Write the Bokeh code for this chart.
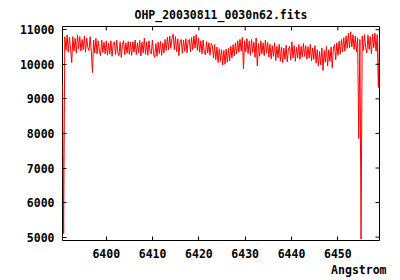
import numpy as np
from bokeh.plotting import figure
from bokeh.models import Range1d, FixedTicker, Title
from bokeh.embed import file_html
from bokeh.resources import INLINE

title_text = "OHP_20030811_0030n62.fits"
x_label = "Angstrom"
x_ticks = [6400, 6410, 6420, 6430, 6440, 6450]
y_ticks = [5000, 6000, 7000, 8000, 9000, 10000, 11000]
wl_start, wl_end = 6390.55, 6459.0
y_min, y_max = 4904, 11093

flux = [
    9400, 5100, 10800, 10400, 10850, 10350, 10780, 10450, 10050, 10800,
    10380, 10750, 10330, 10850, 10450, 10800, 10380, 10720, 10420, 10820,
    10350, 10760, 10480, 10400, 10800, 10360, 9760, 10700, 10330, 10750,
    10300, 10680, 10380, 10250, 10700, 10340, 10640, 10300, 10680, 10260,
    10620, 10300, 10680, 10230, 10600, 10650, 10280, 10700, 10330, 10250,
    10640, 10200, 10580, 10680, 10280, 10620, 10320, 10660, 10290, 10640,
    10260, 10650, 10350, 10700, 10280, 10620, 10330, 10690, 10240, 10640,
    10330, 10760, 10290, 10650, 10260, 10680, 10350, 10300, 10700, 10300,
    10200, 10600, 10230, 10640, 10310, 10660, 10260, 10620, 10330, 10720,
    10400, 10780, 10420, 10820, 10460, 10760, 10870, 10420, 10800, 10360,
    10740, 10250, 10660, 10720, 10320, 10700, 10380, 10740, 10330, 10680,
    10720, 10360, 10770, 10420, 10820, 10470, 10860, 10400, 10760, 10350,
    10680, 10300, 10700, 10360, 10280, 10660, 10320, 10620, 10260, 10600,
    10540, 10180, 10570, 10130, 10500, 10050, 10450, 10080, 10420, 9980,
    10400, 10000, 10440, 10060, 10470, 10100, 10520, 10180, 10570, 10240,
    10620, 10300, 10680, 10350, 10720, 10380, 10780, 9870, 10680, 10360,
    10740, 10310, 10670, 10260, 10720, 10340, 10640, 10200, 10760, 9950,
    10600, 10230, 10680, 10300, 10620, 10250, 10700, 10320, 10630, 10210,
    10580, 10160, 10540, 10230, 10620, 10110, 10520, 10190, 10580, 10090,
    10500, 10050, 10470, 10140, 10550, 10070, 10440, 10520, 10130, 10650,
    10180, 10540, 10090, 10500, 10180, 10570, 10140, 10520, 10210, 10600,
    10230, 10540, 10150, 10510, 10180, 10580, 10100, 10470, 10140, 10540,
    10030, 10420, 9950, 10370, 9980, 10470, 9820, 10400, 10060, 10520,
    9950, 10420, 10080, 10500, 9900, 10470, 10570, 10130, 10620, 10260,
    10670, 10300, 10720, 10360, 10770, 10380, 10820, 10460, 10900, 10480,
    10940, 10500, 10860, 10430, 10820, 10360, 10770, 7850, 10720, 4950,
    10820, 10400, 10860, 10480, 10330, 10840, 10430, 10800, 10300, 10870,
    10480, 10900, 10380, 10860, 9330, 10780,
]
wavelength = np.linspace(wl_start, wl_end, len(flux))

FONT = "DejaVu Sans Mono"
FS = "11.5px"
W, H = 400, 280
ML, MR, MT, MB = 62, 21, 25, 40
TICK = 4

p = figure(width=W, height=H, output_backend="svg", toolbar_location=None,
           x_range=Range1d(wl_start, wl_end), y_range=Range1d(y_min, y_max),
           min_border_left=ML, min_border_right=MR, min_border_top=MT,
           min_border_bottom=MB, title=title_text)
p.title.align = "center"
p.title.text_font = FONT
p.title.text_font_size = FS
p.title.text_font_style = "bold"
p.title.text_color = "black"
p.xgrid.visible = False
p.ygrid.visible = False
p.outline_line_color = "black"
p.outline_line_width = 1
p.background_fill_color = "white"
p.border_fill_color = "white"

p.line(wavelength, flux, line_color="red", line_width=1)

for ax in p.xaxis:
    ax.ticker = FixedTicker(ticks=x_ticks)
for ax in p.yaxis:
    ax.ticker = FixedTicker(ticks=y_ticks)

for ax in list(p.xaxis) + list(p.yaxis):
    ax.axis_line_color = None
    ax.major_tick_in = TICK
    ax.major_tick_out = 0
    ax.minor_tick_line_color = None
    ax.major_tick_line_color = "black"
    ax.major_label_text_font = FONT
    ax.major_label_text_font_size = FS
    ax.major_label_text_font_style = "bold"
    ax.major_label_text_color = "black"
    ax.major_label_standoff = 8

# mirrored ticks on top and right borders
frame_w = W - ML - MR
frame_h = H - MT - MB
dy = TICK * (y_max - y_min) / frame_h
dx = TICK * (wl_end - wl_start) / frame_w
p.segment(x0=x_ticks, y0=[y_max] * len(x_ticks), x1=x_ticks,
          y1=[y_max - dy] * len(x_ticks), line_color="black", line_width=1)
p.segment(x0=[wl_end] * len(y_ticks), y0=y_ticks, x1=[wl_end - dx] * len(y_ticks),
          y1=y_ticks, line_color="black", line_width=1)

xl = Title(text=x_label, align="right", offset=-7, standoff=0,
           text_font=FONT, text_font_size=FS, text_font_style="bold",
           text_color="black")
p.add_layout(xl, "below")

open("out.html", "w").write(file_html(p, INLINE))
